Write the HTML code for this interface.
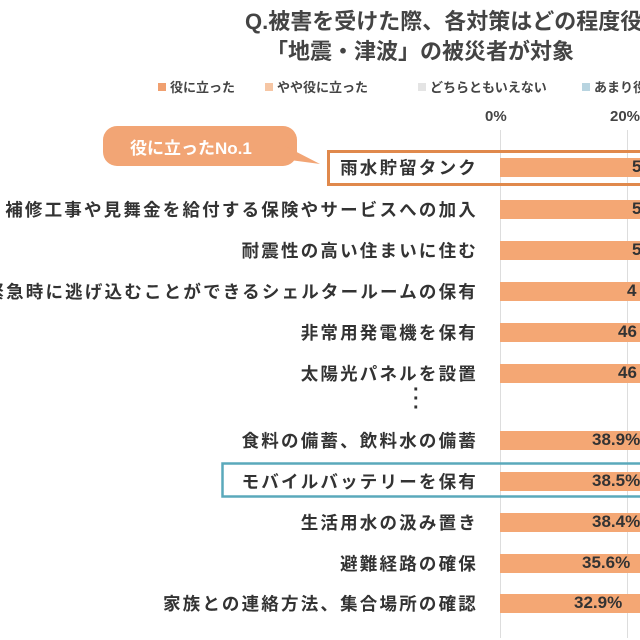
<!DOCTYPE html>
<html><head><meta charset="utf-8"><style>
html,body{margin:0;width:640px;height:640px;overflow:hidden;background:#fff}
#w{position:relative;width:640px;height:640px;overflow:hidden;font-family:"Liberation Sans","Noto Sans CJK JP",sans-serif;color:#333}
.a{position:absolute;white-space:nowrap}
.t{font-size:22px;font-weight:bold;color:#444}
.lg{font-size:13px;font-weight:bold;color:#444;top:77px}
.sq{display:inline-block;width:8px;height:8px;margin-right:4px;vertical-align:1px}
.lab{right:162px;font-size:17.5px;font-weight:bold;letter-spacing:2.2px;color:#333}
.bar{left:500px;width:140px;height:19px;background:#f4a774}
.v{font-size:17px;color:#333;font-weight:bold}
.g{position:absolute;top:130px;height:508px;width:1px;background:#ddd}
</style></head><body><div id="w">
<div class="g" style="left:500px"></div>
<div class="g" style="left:627px"></div>
<div class="a t" style="left:245px;top:4px;width:395px;overflow:hidden">Q.被害を受けた際、各対策はどの程度役に立ちましたか</div>
<div class="a t" style="left:266px;top:34px">「地震・津波」の被災者が対象</div>
<div class="a lg" style="left:158px"><span class="sq" style="background:#f0a070"></span>役に立った</div>
<div class="a lg" style="left:265px"><span class="sq" style="background:#f6c6a4"></span>やや役に立った</div>
<div class="a lg" style="left:418px"><span class="sq" style="background:#e4e4e4"></span>どちらともいえない</div>
<div class="a lg" style="left:582px"><span class="sq" style="background:#b8d4e0"></span>あまり役に立たなかった</div>
<div class="a" style="left:485px;top:108px;font-size:15px;font-weight:bold;color:#444">0%</div>
<div class="a" style="left:610px;top:108px;font-size:15px;font-weight:bold;color:#444">20%</div>
<svg class="a" style="left:0;top:0" width="640" height="640">
<rect x="103" y="126" width="194" height="40" rx="14" fill="#f2a575"/>
<path d="M285 146 L320 164 L290 160 Z" fill="#f2a575"/>
<rect x="328.5" y="151.5" width="320" height="33" fill="none" stroke="#e0894c" stroke-width="3"/>
<rect x="222.5" y="463.5" width="420" height="33" fill="none" stroke="#5aa9bb" stroke-width="2.5"/>
</svg>
<div class="a" style="left:130px;top:134px;font-size:17px;font-weight:bold;color:#fff">役に立ったNo.1</div>
<div class="a bar" style="top:158px"></div>
<div class="a bar" style="top:200px"></div>
<div class="a bar" style="top:241px"></div>
<div class="a bar" style="top:282px"></div>
<div class="a bar" style="top:323px"></div>
<div class="a bar" style="top:364px"></div>
<div class="a bar" style="top:431px"></div>
<div class="a bar" style="top:472px"></div>
<div class="a bar" style="top:513px"></div>
<div class="a bar" style="top:554px"></div>
<div class="a bar" style="top:594px"></div>
<div class="a lab" style="top:155px">雨水貯留タンク</div>
<div class="a lab" style="top:197px">補修工事や見舞金を給付する保険やサービスへの加入</div>
<div class="a lab" style="top:238px">耐震性の高い住まいに住む</div>
<div class="a lab" style="top:279px">緊急時に逃げ込むことができるシェルタールームの保有</div>
<div class="a lab" style="top:320px">非常用発電機を保有</div>
<div class="a lab" style="top:361px">太陽光パネルを設置</div>
<div class="a" style="left:413px;top:386px;font-size:20px;font-weight:bold;line-height:9px">·<br>·<br>·</div>
<div class="a lab" style="top:428px">食料の備蓄、飲料水の備蓄</div>
<div class="a lab" style="top:469px">モバイルバッテリーを保有</div>
<div class="a lab" style="top:510px">生活用水の汲み置き</div>
<div class="a lab" style="top:551px">避難経路の確保</div>
<div class="a lab" style="top:591px">家族との連絡方法、集合場所の確認</div>
<div class="a v" style="left:632px;top:157px">5</div>
<div class="a v" style="left:632px;top:199px">5</div>
<div class="a v" style="left:632px;top:240px">5</div>
<div class="a v" style="left:627px;top:281px">4</div>
<div class="a v" style="left:618px;top:322px">46</div>
<div class="a v" style="left:618px;top:363px">46</div>
<div class="a v" style="left:592px;top:430px">38.9%</div>
<div class="a v" style="left:592px;top:471px">38.5%</div>
<div class="a v" style="left:592px;top:512px">38.4%</div>
<div class="a v" style="left:582px;top:553px">35.6%</div>
<div class="a v" style="left:574px;top:593px">32.9%</div>
</div></body></html>
